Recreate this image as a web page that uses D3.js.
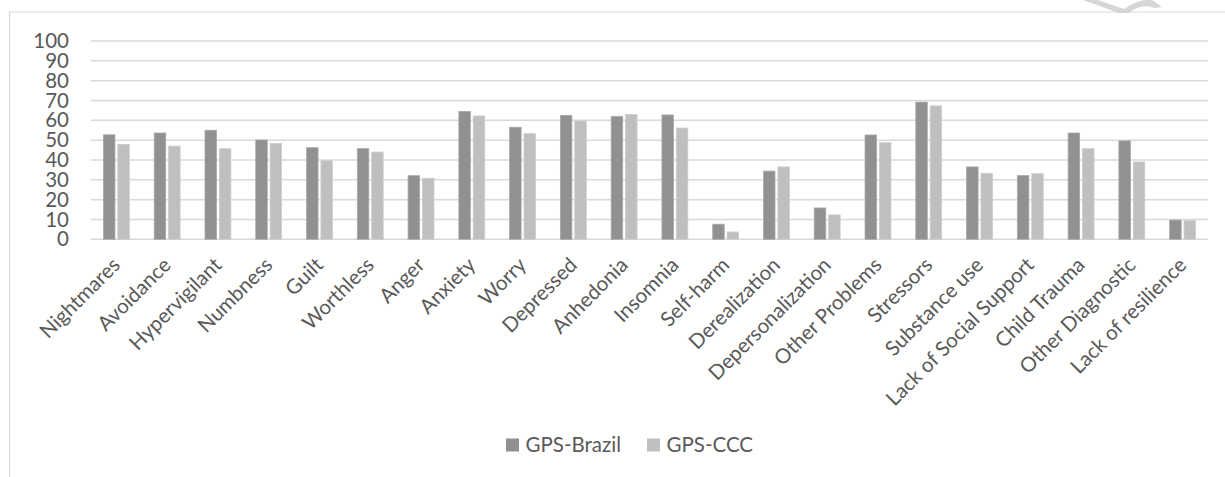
<!DOCTYPE html>
<html>
<head>
<meta charset="utf-8">
<script src="https://cdn.jsdelivr.net/npm/d3@7"></script>
<style>
  html, body { margin: 0; padding: 0; background: #fff; }
  svg { display: block; }
  text { font-family: Lato, "Open Sans", sans-serif; fill: #595959; }
</style>
</head>
<body>
<svg id="chart" width="1225" height="477"></svg>
<script>
// Symptom categories (x axis)
const categories = [
  "Nightmares", "Avoidance", "Hypervigilant", "Numbness", "Guilt", "Worthless",
  "Anger", "Anxiety", "Worry", "Depressed", "Anhedonia", "Insomnia", "Self-harm",
  "Derealization", "Depersonalization", "Other Problems", "Stressors",
  "Substance use", "Lack of Social Support", "Child Trauma", "Other Diagnostic",
  "Lack of resilience"
];

// Percentages per series
const gpsBrazil = [52.7, 53.6, 55.0, 50.1, 46.2, 45.7, 32.1, 64.5, 56.5, 62.5, 62.0,
                   62.7, 7.6, 34.4, 15.8, 52.6, 69.2, 36.5, 32.1, 53.6, 49.6, 9.7];
const gpsCCC    = [47.9, 47.0, 45.7, 48.4, 39.6, 44.0, 30.8, 62.2, 53.3, 59.7, 63.0,
                   56.1, 3.7, 36.5, 12.3, 48.7, 67.3, 33.3, 33.1, 45.7, 39.0, 9.4];

const seriesNames = ["GPS-Brazil", "GPS-CCC"];
const seriesColors = ["#919191", "#bfbfbf"];
const yTicks = [0, 10, 20, 30, 40, 50, 60, 70, 80, 90, 100];

const rows = categories.map((c, i) => ({ cat: c, values: [gpsBrazil[i], gpsCCC[i]] }));

const svg = d3.select("#chart");
const plot = { left: 91, right: 1208, top: 41, bottom: 239.3 };
const fontSize = 20.5;

// Chart frame (left and top edges)
svg.append("path")
  .attr("d", "M9.5,477 L9.5,12 L1225,12")
  .attr("fill", "none")
  .attr("stroke", "#d9d9d9")
  .attr("stroke-width", 1.2);

// Faint mark at the top right corner
svg.append("path")
  .attr("d", "M1083,0 L1098,0 L1124,9 Q1138,-1 1152,0 L1162,7 L1155,8 Q1141,3 1129,13 L1119,13 Z")
  .attr("fill", "#d6d6d6");

const x0 = d3.scaleBand()
  .domain(categories)
  .range([plot.left, plot.right])
  .paddingInner(0.49)
  .paddingOuter(0.245);

const x1 = d3.scaleBand()
  .domain(d3.range(seriesNames.length))
  .range([0, x0.bandwidth()])
  .paddingInner(0.2);

const y = d3.scaleLinear().domain([0, 100]).range([plot.bottom, plot.top]);

// Gridlines
svg.append("g")
  .selectAll("line")
  .data(yTicks)
  .join("line")
  .attr("x1", plot.left)
  .attr("x2", plot.right)
  .attr("y1", d => y(d))
  .attr("y2", d => y(d))
  .attr("stroke", "#d9d9d9")
  .attr("stroke-width", 1.5);

// Y axis labels
const yAxis = d3.axisLeft(y).tickValues(yTicks).tickSize(0).tickPadding(0);
const gy = svg.append("g").attr("transform", `translate(69,0)`).call(yAxis);
gy.select(".domain").remove();
gy.selectAll("text")
  .attr("font-size", fontSize)
  .attr("font-family", "Lato, 'Open Sans', sans-serif")
  .attr("fill", "#595959");

// Bars
const groups = svg.append("g")
  .selectAll("g")
  .data(rows)
  .join("g")
  .attr("transform", d => `translate(${x0(d.cat)},0)`);

groups.selectAll("rect")
  .data(d => d.values.map((v, i) => ({ v, i })))
  .join("rect")
  .attr("x", d => x1(d.i))
  .attr("width", x1.bandwidth())
  .attr("y", d => y(d.v))
  .attr("height", d => y(0) - y(d.v))
  .attr("fill", d => seriesColors[d.i])
  .attr("stroke", d => d.i === 0 ? "#a8a8a8" : "#cdcdcd")
  .attr("stroke-width", 0.8);

// X axis category labels, rotated
const xAxis = d3.axisBottom(x0).tickSize(0).tickPadding(0);
const gx = svg.append("g").attr("transform", `translate(0,${plot.bottom})`).call(xAxis);
gx.select(".domain").remove();
gx.selectAll(".tick text")
  .attr("font-size", fontSize)
  .attr("font-family", "Lato, 'Open Sans', sans-serif")
  .attr("fill", "#595959")
  .attr("text-anchor", "end")
  .attr("dy", null)
  .attr("y", 0)
  .attr("transform", "translate(5,27) rotate(-45)");

// Legend
const legendItems = [
  { name: seriesNames[0], color: seriesColors[0], x: 506 },
  { name: seriesNames[1], color: seriesColors[1], x: 647 }
];
const legend = svg.append("g").selectAll("g").data(legendItems).join("g")
  .attr("transform", d => `translate(${d.x},438.5)`);
legend.append("rect")
  .attr("width", 13).attr("height", 13)
  .attr("fill", d => d.color);
legend.append("text")
  .attr("x", 19.5).attr("y", 13.5)
  .attr("font-size", fontSize)
  .text(d => d.name);
</script>
</body>
</html>
